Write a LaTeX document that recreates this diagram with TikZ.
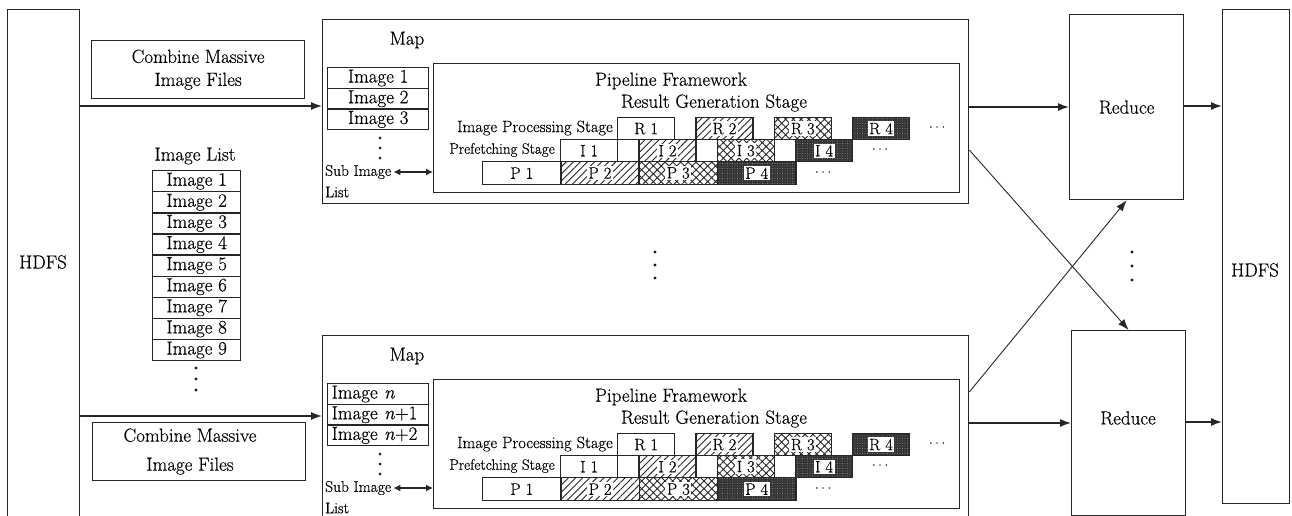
\documentclass[tikz,border=0pt]{standalone}
\usepackage{fontspec}
\setmainfont{Latin Modern Roman}[FakeBold=0.35]
\usetikzlibrary{arrows.meta,patterns.meta}
\newcommand\mycell[7]{%
  \node[bx, #6, minimum width=#4, minimum height=#5] (#1) at (#2,#3) {};
  \node[lbl] at (#1.center) {#7};}
\newcommand\myell{.\kern2pt.\kern2pt.}
\begin{document}
\begin{tikzpicture}[x=1pt,y=-1pt,
  every node/.style={font=\fontsize{19}{23}\selectfont, text=black},
  bx/.style={draw=black!85, line width=1.3pt, rectangle, inner sep=0pt, anchor=north west},
  arr/.style={draw=black!85, line width=1.4pt, -{Latex[length=11pt,width=8pt]}},
  thinarr/.style={draw=black!85, line width=0.9pt, -{Latex[length=11pt,width=8pt]}},
  dbl/.style={draw=black!85, line width=1.2pt, {Latex[length=7pt,width=7pt]}-{Latex[length=7pt,width=7pt]}},
  lbl/.style={fill=white, inner sep=1.5pt, font=\fontsize{16.5}{19}\selectfont},
  c1/.style={fill=white},
  c2/.style={pattern={Lines[angle=45,distance=5pt,line width=0.9pt]}, pattern color=black!85},
  c3/.style={pattern={Hatch[angle=45,distance=5.5pt,line width=0.9pt]}, pattern color=black!85},
  c4/.style={preaction={fill=black!80}, pattern={Dots[distance=2.5pt,radius=0.45pt]}, pattern color=white!70!black},
  small/.style={font=\fontsize{15.5}{18}\selectfont},
  ell/.style={font=\fontsize{17}{19}\selectfont},
]
\useasboundingbox (0,0) rectangle (1292,516);

% left HDFS
\node[bx, minimum width=72pt, minimum height=520pt] (hdfsL) at (7,9) {};
\node (hdfsLt) at (43,262) {HDFS};

% combine boxes
\node[bx, minimum width=213pt, minimum height=58pt, align=center] (combT) at (91,40) {Combine Massive\\Image Files};
\node[bx, minimum width=213pt, minimum height=58pt] (combB) at (92,422) {};
\node[align=center, font=\fontsize{19}{29}\selectfont] (combBt) at (190,451.5) {Combine Massive\\Image Files};

% image list
\node (ilab) at (195,156) {Image List};
\foreach \i in {1,...,9}
  \node[bx, minimum width=88pt, minimum height=21.1pt] (il\i) at (152,{170+21.1*(\i-1)}) {Image \i};
\foreach \yy in {368,379,390} \fill[black!90] (196,\yy) circle (1.6pt);

% map boxes
\node[bx, minimum width=646pt, minimum height=184pt] (mapT) at (322,19) {};
\node[bx, minimum width=646pt, minimum height=184pt] (mapB) at (322,335) {};

\foreach \d/\s in {0/T,316/B} {
  \node (maplab\s) at (407,{40+\d}) {Map};
  \foreach \yy in {138,148,158} \fill[black!90] (380,{\yy+\d}) circle (1.5pt);
  \node[anchor=west, inner sep=0pt, small] (sub\s) at (325,{172+\d}) {Sub Image};
  \node[anchor=west, inner sep=0pt, small] (list\s) at (325,{192+\d}) {List};
  \node[bx, minimum width=526pt, minimum height=129pt] (pipe\s) at (433,{63+\d}) {};
  \node (pf\s) at (671,{81+\d}) {Pipeline Framework};
  \node (rg\s) at (714,{103+\d}) {Result Generation Stage};
  \node[anchor=east, inner sep=0pt, font=\fontsize{16.5}{19}\selectfont] (ips\s) at (613,{128+\d}) {Image Processing Stage};
  \node[anchor=east, inner sep=0pt, font=\fontsize{15}{18}\selectfont] (pfs\s) at (555,{150+\d}) {Prefetching Stage};
  \foreach \k/\st in {1/c1,2/c2,3/c3,4/c4} {
    \mycell{P\s\k}{{482+78.3*(\k-1)}}{{161+\d}}{78.3pt}{23pt}{\st}{P \k}
    \mycell{I\s\k}{{560+78.3*(\k-1)}}{{139+\d}}{57pt}{22pt}{\st}{I \k}
    \mycell{R\s\k}{{617+78.3*(\k-1)}}{{117+\d}}{57pt}{22pt}{\st}{R \k}
  }
  \node[ell] (dR\s) at (937,{127+\d}) {\myell};
  \node[ell] (dI\s) at (880,{149+\d}) {\myell};
  \node[ell] (dP\s) at (823,{172+\d}) {\myell};
  \draw[dbl] ([xshift=2pt]sub\s.east) -- (pipe\s.west |- sub\s.east);
}

% sub image lists
\node[bx, minimum width=101pt, minimum height=20.7pt] (sT1) at (327,67) {Image 1};
\node[bx, minimum width=101pt, minimum height=20.7pt] (sT2) at (327,87.7) {Image 2};
\node[bx, minimum width=101pt, minimum height=20.7pt] (sT3) at (327,108.4) {Image 3};
\node[bx, minimum width=101pt, minimum height=20.7pt, text width=93pt, align=left] (sB1) at (327,383) {Image \textit{n}};
\node[bx, minimum width=101pt, minimum height=20.7pt, text width=93pt, align=left] (sB2) at (327,403.7) {Image \textit{n}+1};
\node[bx, minimum width=101pt, minimum height=20.7pt, text width=93pt, align=left] (sB3) at (327,424.4) {Image \textit{n}+2};

% middle dots
\foreach \yy in {252,265,278} \fill[black!90] (655,\yy) circle (1.6pt);
\foreach \yy in {252,266,280} \fill[black!90] (1132,\yy) circle (1.6pt);

% reduce and right HDFS
\node[bx, minimum width=114pt, minimum height=185pt] (redT) at (1069,14) {Reduce};
\node[bx, minimum width=114pt, minimum height=185pt] (redB) at (1071,330) {};
\node (redBt) at (1128,418) {Reduce};
\node[bx, minimum width=67pt, minimum height=494pt] (hdfsR) at (1222,9) {};
\node (hdfsRt) at (1255,270) {HDFS};

% connectors
\draw[arr] (hdfsL.east |- 0,106) -- (mapT.west |- 0,106);
\draw[arr] (hdfsL.east |- 0,416) -- (mapB.west |- 0,416);
\draw[arr] (mapT.east |- 0,107) -- (redT.west |- 0,107);
\draw[arr] (mapB.east |- 0,423) -- (redB.west |- 0,423);
\draw[arr] (redT.east |- 0,106) -- (hdfsR.west |- 0,106);
\draw[arr] (redB.east |- 0,422) -- (hdfsR.west |- 0,422);
\draw[thinarr] (mapT.east |- 0,150) -- (redB.north);
\draw[thinarr] (mapB.east |- 0,392) -- (redT.south);
\end{tikzpicture}
\end{document}
